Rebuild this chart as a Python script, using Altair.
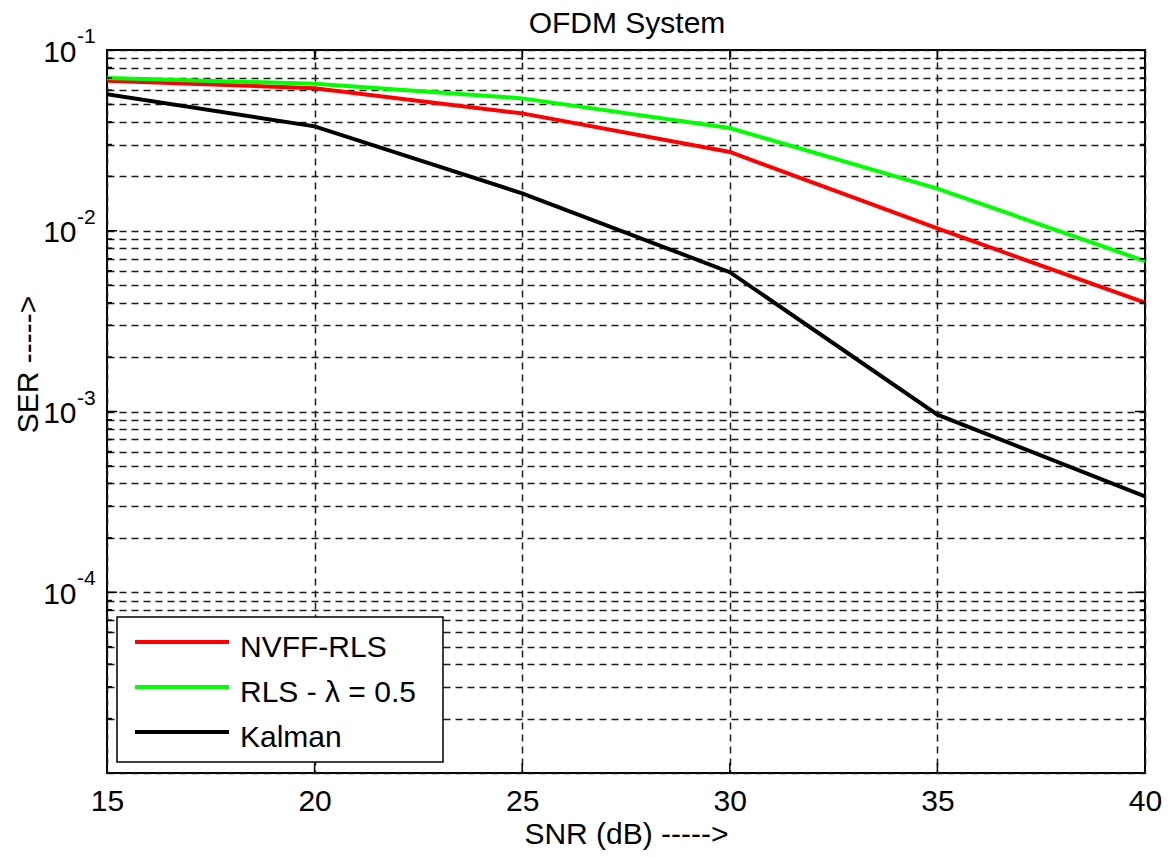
import altair as alt
import pandas as pd

# SER versus SNR for three channel estimators in an OFDM link
snr = [15, 20, 25, 30, 35, 40]
ser_nvff_rls = [0.0675, 0.0615, 0.0446, 0.0273, 0.0103, 0.0040]
ser_rls = [0.070, 0.065, 0.054, 0.037, 0.0171, 0.0068]
ser_kalman = [0.057, 0.0378, 0.0161, 0.0059, 0.00096, 0.000339]

series_names = ["NVFF-RLS", "RLS - λ = 0.5", "Kalman"]
series_colors = ["#ff0000", "#00ff00", "#000000"]

chart_title = "OFDM System"
x_ticks = [15, 20, 25, 30, 35, 40]
x_inner_ticks = [20, 25, 30, 35]
decades = [1e-1, 1e-2, 1e-3, 1e-4]
decade_exponents = ["-1", "-2", "-3", "-4"]
y_minor = [m * 10.0 ** e for e in (-5, -4, -3, -2) for m in range(2, 10)]
y_grid = sorted(y_minor + decades + [1e-5])

W, H = 1038, 723
FONT = "Liberation Sans"

rows = []
for name, values in zip(series_names, [ser_nvff_rls, ser_rls, ser_kalman]):
    for s, v in zip(snr, values):
        rows.append({"series": name, "snr": s, "ser": v})
df = pd.DataFrame(rows)

x_scale = alt.Scale(domain=[15, 40], nice=False, zero=False)
y_scale = alt.Scale(type="log", domain=[1e-5, 1e-1], nice=False)

grid_style = dict(grid=True, gridDash=[7, 5], gridColor="#1a1a1a", gridOpacity=1, gridWidth=1.5)

x_axis = alt.Axis(
    values=x_ticks, ticks=False, domain=False, **grid_style,
    labelFontSize=30, labelPadding=13, labelFlush=False, labelColor="black",
    title="SNR (dB) ----->", titleFontSize=30, titleFontWeight="normal",
    titleColor="black", titleBaseline="alphabetic", titleY=70,
)
y_axis = alt.Axis(
    values=y_grid, ticks=False, domain=False, **grid_style,
    labelExpr="datum.value > 2e-5 && abs(log(datum.value)/LN10 - round(log(datum.value)/LN10)) < 1e-6 ? '10' : ''",
    labelFontSize=30, labelPadding=31, labelBaseline="middle", labelOffset=2,
    labelOverlap=False, labelColor="black",
    title="SER ----->", titleFontSize=30, titleFontWeight="normal",
    titleColor="black", titleBaseline="alphabetic", titleX=-70, titleY=314,
)

lines = alt.Chart(df).mark_line(strokeWidth=4, clip=True).encode(
    x=alt.X("snr:Q", scale=x_scale, axis=x_axis),
    y=alt.Y("ser:Q", scale=y_scale, axis=y_axis),
    color=alt.Color("series:N", scale=alt.Scale(domain=series_names, range=series_colors), legend=None),
    order=alt.Order("snr:Q"),
)

# inner tick marks along the frame
major_df = pd.DataFrame({"v": decades})
minor_df = pd.DataFrame({"v": y_minor})
xt_df = pd.DataFrame({"s": x_inner_ticks})
tick_style = dict(color="black", strokeWidth=1.5)

ticks = []
for data, length in ((major_df, 10), (minor_df, 5)):
    ticks.append(alt.Chart(data).mark_rule(**tick_style).encode(
        y=alt.Y("v:Q", scale=y_scale), x=alt.value(0), x2=alt.value(length)))
    ticks.append(alt.Chart(data).mark_rule(**tick_style).encode(
        y=alt.Y("v:Q", scale=y_scale), x=alt.value(W), x2=alt.value(W - length)))
ticks.append(alt.Chart(xt_df).mark_rule(**tick_style).encode(
    x=alt.X("s:Q", scale=x_scale), y=alt.value(H), y2=alt.value(H - 10)))
ticks.append(alt.Chart(xt_df).mark_rule(**tick_style).encode(
    x=alt.X("s:Q", scale=x_scale), y=alt.value(0), y2=alt.value(10)))

# superscript exponents of the decade labels
exp_df = pd.DataFrame({"v": decades, "e": decade_exponents})
exponents = alt.Chart(exp_df).mark_text(
    align="left", baseline="alphabetic", dx=-30, dy=-7, fontSize=21, font=FONT, color="black"
).encode(y=alt.Y("v:Q", scale=y_scale), x=alt.value(0), text="e:N")

# chart heading above the frame
heading = alt.Chart(pd.DataFrame({"t": [chart_title]})).mark_text(
    align="center", baseline="alphabetic", fontSize=30, font=FONT, color="black"
).encode(x=alt.value(W / 2 + 1), y=alt.value(-17), text="t:N")

# legend box
one = pd.DataFrame({"k": [0]})
legend_layers = [
    alt.Chart(one).mark_rect(fill="white", stroke="black", strokeWidth=1.5).encode(
        x=alt.value(10), x2=alt.value(336), y=alt.value(567), y2=alt.value(712))
]
row_y = [592, 637, 682]
for name, col, ry in zip(series_names, series_colors, row_y):
    legend_layers.append(alt.Chart(one).mark_rule(color=col, strokeWidth=4).encode(
        x=alt.value(28), x2=alt.value(122), y=alt.value(ry)))
    legend_layers.append(alt.Chart(pd.DataFrame({"t": [name]})).mark_text(
        align="left", baseline="alphabetic", dy=15, fontSize=30, font=FONT, color="black"
    ).encode(x=alt.value(133), y=alt.value(ry), text="t:N"))

chart = alt.layer(lines, *ticks, exponents, heading, *legend_layers).properties(
    width=W, height=H,
    padding={"left": 107, "top": 50, "right": 26, "bottom": 84},
    autosize=alt.AutoSizeParams(type="none"),
).configure(font=FONT, background="white").configure_view(stroke="black", strokeWidth=2)

chart.save("out.html", embed_options={"renderer": "svg", "actions": False})
